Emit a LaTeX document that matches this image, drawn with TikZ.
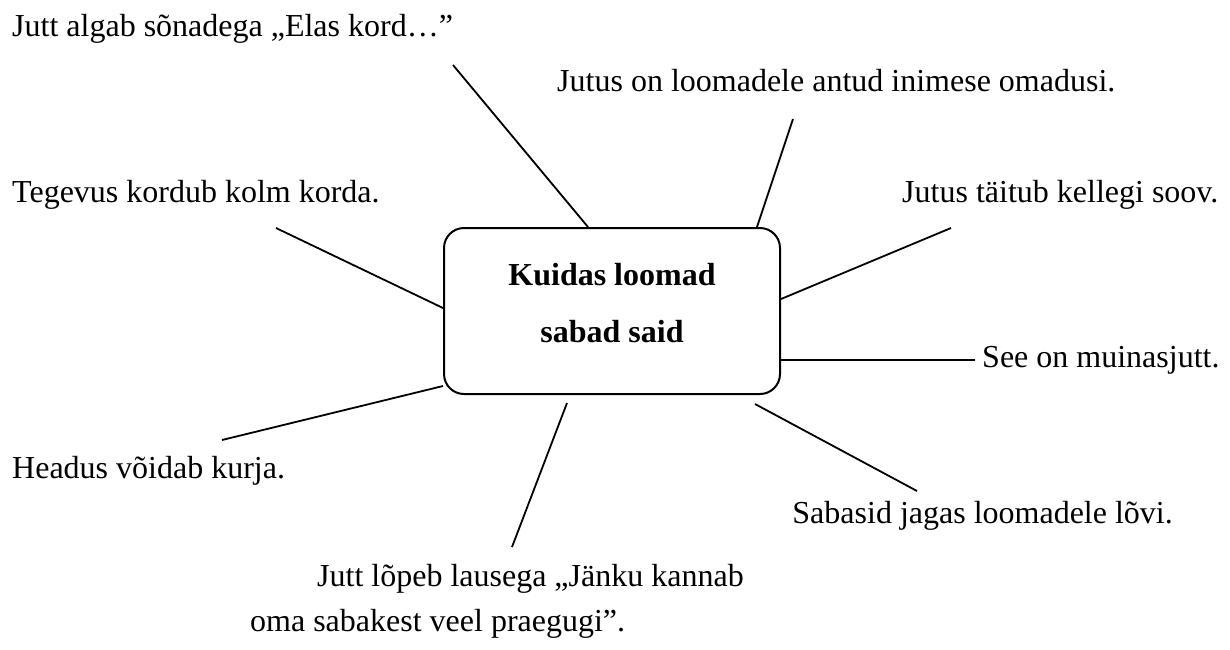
\documentclass[tikz,border=0pt]{standalone}
\usepackage{fontspec}
\setmainfont{Liberation Serif}
\usetikzlibrary{calc}
\begin{document}
\begin{tikzpicture}[x=1pt,y=-1pt,
  lbl/.style={inner sep=0pt, font=\fontsize{32}{38}\selectfont},
  conn/.style={line width=1.8pt},
  hub/.style={draw, line width=2pt, rounded corners=20pt, minimum width=336pt,
    minimum height=166pt, inner sep=0pt, text depth=17pt,
    font=\bfseries\fontsize{32}{57}\selectfont}]
\useasboundingbox (0,0) rectangle (1230,649);

% central box
\node[hub] (box) at (612,311) {\vbox{\hsize=330pt\parindent=0pt\centering Kuidas loomad\par sabad said\par}};

% labels
\node[lbl, anchor=base west] (t1) at (12,36) {Jutt algab sõnadega „Elas kord…”};
\node[lbl, anchor=base west] (t2) at (557,91) {Jutus on loomadele antud inimese omadusi.};
\node[lbl, anchor=base west] (t3) at (12,202) {Tegevus kordub kolm korda.};
\node[lbl, anchor=base west] (t4) at (902,202) {Jutus täitub kellegi soov.};
\node[lbl, anchor=base west] (t5) at (982,367) {See on muinasjutt.};
\node[lbl, anchor=base west] (t6) at (12,478) {Headus võidab kurja.};
\node[lbl, anchor=base east] (t7) at (1173,523) {Sabasid jagas loomadele lõvi.};
\node[lbl, anchor=base west] (t8) at (250,586) {\vtop{\baselineskip=45pt\hbox{\hspace*{67pt}Jutt lõpeb lausega „Jänku kannab}\hbox{oma sabakest veel praegugi”.}}};

% free ends of connectors
\coordinate (e1) at (453,65);
\coordinate (e2) at (793,119);
\coordinate (e3) at (276,228);
\coordinate (e4) at (951,228);
\coordinate (e5) at (975,360);
\coordinate (e6) at (222,440);
\coordinate (e7) at (512,547);
\coordinate (e8) at (917,491);

% connectors
\draw[conn] (e1) -- ($(box.north)+(-24,0)$);
\draw[conn] (e2) -- ($(box.north)+(145,0)$);
\draw[conn] (e3) -- ($(box.west)+(0,-3)$);
\draw[conn] (e4) -- ($(box.east)+(0,-12)$);
\draw[conn] (e5) -- ($(box.east)+(0,49)$);
\draw[conn] (e6) -- ($(box.west)+(0,75)$);
\draw[conn] (e7) -- ($(box.south)+(-45,8)$);
\draw[conn] (e8) -- ($(box.south)+(143,9)$);
\end{tikzpicture}
\end{document}
